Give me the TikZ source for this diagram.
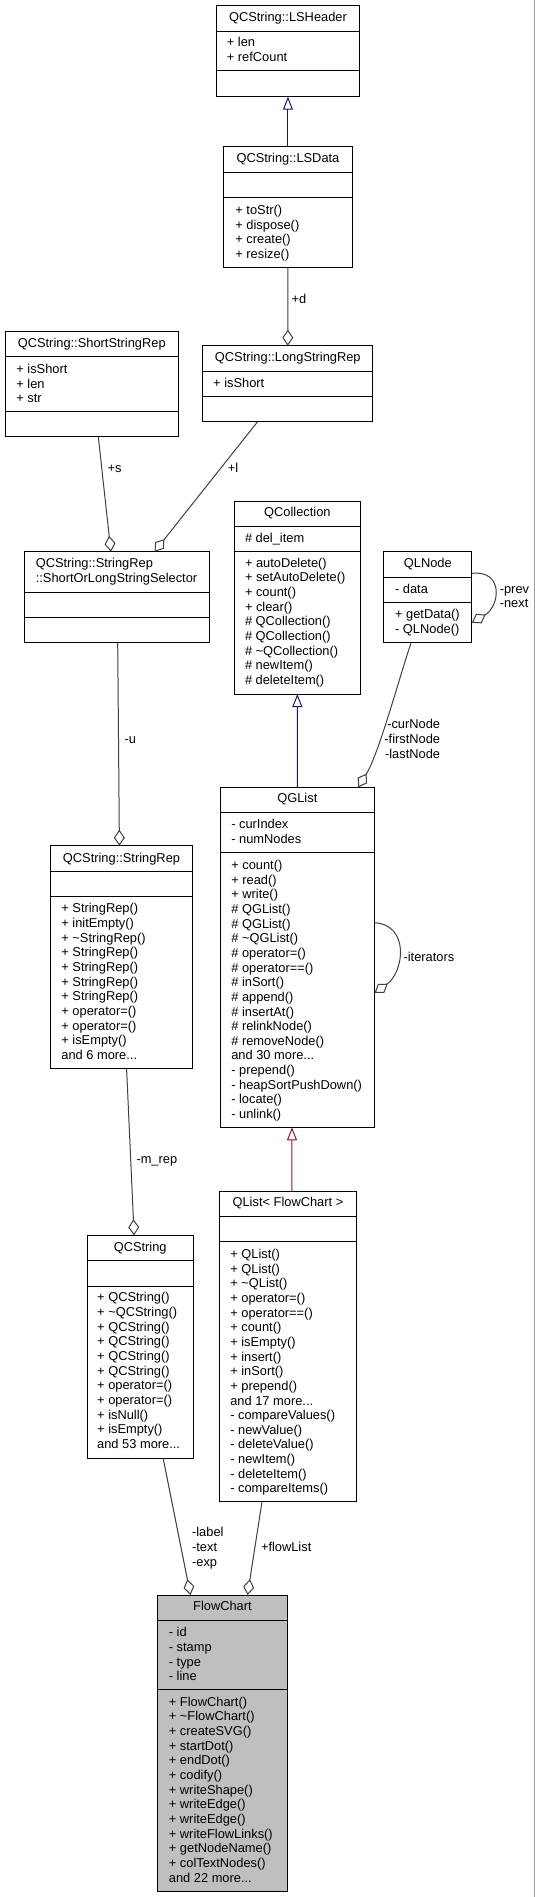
\documentclass[tikz,border=0pt]{standalone}
\usepackage{fontspec}
\setmainfont{Liberation Sans}
\usetikzlibrary{arrows.meta,calc}
\definecolor{edgegray}{HTML}{404040}
\definecolor{inhblue}{HTML}{191970}
\definecolor{inhred}{HTML}{8B1A1A}
\definecolor{fcgray}{HTML}{BFBFBF}
\definecolor{rimgray}{HTML}{9A9A9A}
\newcommand\umllines[1]{\begin{tabular}[t]{@{}l@{}}#1\end{tabular}}
\newcommand\umlrlines[1]{\begin{tabular}[t]{@{}r@{}}#1\end{tabular}}
\begin{document}
\begin{tikzpicture}[x=1pt,y=-1pt,
  every node/.style={font=\fontsize{12.85}{14.65}\selectfont, inner sep=0pt, outer sep=0pt},
  cbox/.style 2 args={draw=black, line width=1pt, fill=white, anchor=north west, minimum width=#1pt, minimum height=#2pt},
  cline/.style={draw=black, line width=1pt},
  ctitle/.style={anchor=base},
  ctext/.style={anchor=base west},
  elabel/.style={anchor=base west},
  agg/.style={draw=edgegray, line width=1pt, -{Diamond[open, length=16pt, width=11pt]}},
  inhb/.style={draw=inhblue, line width=1pt, -{Triangle[open, length=13pt, width=10pt]}},
  inhr/.style={draw=inhred, line width=1pt, -{Triangle[open, length=13pt, width=10pt]}}]
\fill[white] (0,0) rectangle (535,1897);
\useasboundingbox (0,0) rectangle (535,1897);
\draw[rimgray, line width=1.4pt] (534.3,0) -- (534.3,1897);

% QCString::LSHeader
\node[cbox={142.7}{91}] (lsh) at (216.6,5.7) {};
\draw[cline] (216.6,31.7) -- (359.3,31.7);
\draw[cline] (216.6,71) -- (359.3,71);
\node[ctitle] (lsh-t) at (287.95,21.8) {QCString::LSHeader};
\node[ctext] (lsh-a) at (226.9,46.8) {\umllines{+ len\\+ refCount}};

% QCString::LSData
\node[cbox={128.3}{120}] (lsd) at (223.8,147) {};
\draw[cline] (223.8,172.7) -- (352.1,172.7);
\draw[cline] (223.8,198) -- (352.1,198);
\node[ctitle] (lsd-t) at (287.95,162.8) {QCString::LSData};
\node[ctext] (lsd-m) at (235.4,214.5) {\umllines{+ toStr()\\+ dispose()\\+ create()\\+ resize()}};

% QCString::ShortStringRep
\node[cbox={173.3}{105.4}] (ssr) at (5.1,331.3) {};
\draw[cline] (5.1,356.7) -- (178.4,356.7);
\draw[cline] (5.1,411) -- (178.4,411);
\node[ctitle] (ssr-t) at (91.75,347.2) {QCString::ShortStringRep};
\node[ctext] (ssr-a) at (16.4,373.5) {\umllines{+ isShort\\+ len\\+ str}};

% QCString::LongStringRep
\node[cbox={170.2}{76}] (lsr) at (202.7,345.7) {};
\draw[cline] (202.7,371.7) -- (372.9,371.7);
\draw[cline] (202.7,396.7) -- (372.9,396.7);
\node[ctitle] (lsr-t) at (287.8,361.8) {QCString::LongStringRep};
\node[ctext] (lsr-a) at (213.2,387.2) {\umllines{+ isShort}};

% Selector
\node[cbox={185.2}{91}] (sel) at (24.6,551.7) {};
\draw[cline] (24.6,592.3) -- (209.8,592.3);
\draw[cline] (24.6,617.3) -- (209.8,617.3);
\node[ctext] (sel-t) at (35.8,567.8) {\umllines{QCString::StringRep\\::ShortOrLongStringSelector}};

% QCollection
\node[cbox={125.3}{193}] (qcol) at (234.7,501) {};
\draw[cline] (234.7,526) -- (360,526);
\draw[cline] (234.7,551.3) -- (360,551.3);
\node[ctitle] (qcol-t) at (297.35,516.8) {QCollection};
\node[ctext] (qcol-a) at (245,542.2) {\umllines{\# del\_item}};
\node[ctext] (qcol-m) at (245,567.2) {\umllines{+ autoDelete()\\+ setAutoDelete()\\+ count()\\+ clear()\\\# QCollection()\\\# QCollection()\\\# \textasciitilde QCollection()\\\# newItem()\\\# deleteItem()}};

% QLNode
\node[cbox={88.1}{91}] (qln) at (383.8,551.7) {};
\draw[cline] (383.8,577.3) -- (471.9,577.3);
\draw[cline] (383.8,602.7) -- (471.9,602.7);
\node[ctitle] (qln-t) at (427.85,567.8) {QLNode};
\node[ctext] (qln-a) at (395.1,593.2) {\umllines{- data}};
\node[ctext] (qln-m) at (395.1,618.8) {\umllines{+ getData()\\- QLNode()}};

% QGList
\node[cbox={154.5}{340}] (qgl) at (220.1,787.3) {};
\draw[cline] (220.1,812.3) -- (374.6,812.3);
\draw[cline] (220.1,852.3) -- (374.6,852.3);
\node[ctitle] (qgl-t) at (297.35,802.8) {QGList};
\node[ctext] (qgl-a) at (231.3,828.8) {\umllines{- curIndex\\- numNodes}};
\node[ctext] (qgl-m) at (231.3,869.5) {\umllines{+ count()\\+ read()\\+ write()\\\# QGList()\\\# QGList()\\\# \textasciitilde QGList()\\\# operator=()\\\# operator==()\\\# inSort()\\\# append()\\\# insertAt()\\\# relinkNode()\\\# removeNode()\\and 30 more...\\- prepend()\\- heapSortPushDown()\\- locate()\\- unlink()}};

% QCString::StringRep
\node[cbox={142.6}{223}] (srep) at (50.2,845.7) {};
\draw[cline] (50.2,871) -- (192.8,871);
\draw[cline] (50.2,896.7) -- (192.8,896.7);
\node[ctitle] (srep-t) at (121.5,862.2) {QCString::StringRep};
\node[ctext] (srep-m) at (61.4,912.8) {\umllines{+ StringRep()\\+ initEmpty()\\+ \textasciitilde StringRep()\\+ StringRep()\\+ StringRep()\\+ StringRep()\\+ StringRep()\\+ operator=()\\+ operator=()\\+ isEmpty()\\and 6 more...}};

% QList< FlowChart >
\node[cbox={137.1}{310.4}] (qlist) at (219.4,1191.3) {};
\draw[cline] (219.4,1216.7) -- (356.5,1216.7);
\draw[cline] (219.4,1241.7) -- (356.5,1241.7);
\node[ctitle] (qlist-t) at (287.95,1206.8) {QList< FlowChart >};
\node[ctext] (qlist-m) at (230.3,1258.5) {\umllines{+ QList()\\+ QList()\\+ \textasciitilde QList()\\+ operator=()\\+ operator==()\\+ count()\\+ isEmpty()\\+ insert()\\+ inSort()\\+ prepend()\\and 17 more...\\- compareValues()\\- newValue()\\- deleteValue()\\- newItem()\\- deleteItem()\\- compareItems()}};

% QCString
\node[cbox={106.4}{222.7}] (qcs) at (87,1235.3) {};
\draw[cline] (87,1260.7) -- (193.4,1260.7);
\draw[cline] (87,1286) -- (193.4,1286);
\node[ctitle] (qcs-t) at (140.2,1251.2) {QCString};
\node[ctext] (qcs-m) at (97.2,1301.8) {\umllines{+ QCString()\\+ \textasciitilde QCString()\\+ QCString()\\+ QCString()\\+ QCString()\\+ QCString()\\+ operator=()\\+ operator=()\\+ isNull()\\+ isEmpty()\\and 53 more...}};

% FlowChart
\node[cbox={129.7}{296.3}, fill=fcgray] (fc) at (157.6,1595) {};
\draw[cline] (157.6,1620.7) -- (287.3,1620.7);
\draw[cline] (157.6,1689.3) -- (287.3,1689.3);
\node[ctitle] (fc-t) at (222.45,1610.5) {FlowChart};
\node[ctext] (fc-a) at (168.9,1636.8) {\umllines{- id\\- stamp\\- type\\- line}};
\node[ctext] (fc-m) at (168.9,1706.2) {\umllines{+ FlowChart()\\+ \textasciitilde FlowChart()\\+ createSVG()\\+ startDot()\\+ endDot()\\+ codify()\\+ writeShape()\\+ writeEdge()\\+ writeEdge()\\+ writeFlowLinks()\\+ getNodeName()\\+ colTextNodes()\\and 22 more...}};

% connectors
\draw[inhb] (lsd.north) -- (lsh.south);
\draw[agg] (lsd.south) -- (lsr.north);
\draw[agg] ([xshift=6.55pt]ssr.south) -- ([xshift=-6.3pt]sel.north);
\draw[agg] ([xshift=-30.2pt]lsr.south) -- ([xshift=37.3pt]sel.north);
\draw[agg] ([xshift=0.5pt]sel.south) -- ([xshift=-2.1pt]srep.north);
\draw[inhb] (qgl.north) -- (qcol.south);
\draw[agg] ([xshift=-16.75pt]qln.south) .. controls (398.3,680.7) and (379,753.3) .. ([xshift=60.85pt]qgl.north);
\draw[agg] ($(qln.north east)+(0,21.6)$) .. controls (504,570) and (500,606) .. ($(qln.north east)+(0,71)$);
\draw[agg] ($(qgl.north east)+(0,135.4)$) .. controls (410,925) and (404,972) .. ($(qgl.north east)+(0,205.7)$);
\draw[agg] ([xshift=5.1pt]srep.south) -- ([xshift=-6.1pt]qcs.north);
\draw[inhr] ([xshift=4pt]qlist.north) -- ([xshift=-5.35pt]qgl.south);
\draw[agg] ([xshift=22.9pt]qcs.south) -- ([xshift=-31.95pt]fc.north);
\draw[agg] ([xshift=-25.95pt]qlist.south) -- ([xshift=25.05pt]fc.north);

% edge labels
\node[elabel] (l-d) at (291.7,303.5) {+d};
\node[elabel] (l-s) at (107.5,472) {+s};
\node[elabel] (l-l) at (227.9,472) {+l};
\node[elabel] (l-u) at (124.5,743) {-u};
\node[anchor=base east] (l-cur) at (440.1,728.8) {\umlrlines{-curNode\\-firstNode\\-lastNode}};
\node[elabel] (l-prev) at (499.8,593.2) {\umllines{-prev\\-next}};
\node[elabel] (l-it) at (403.6,961.2) {-iterators};
\node[elabel] (l-mrep) at (136.5,1163.5) {-m\_rep};
\node[elabel] (l-lab) at (192.1,1536.8) {\umllines{-label\\-text\\-exp}};
\node[elabel] (l-fl) at (261,1551.8) {+flowList};
\end{tikzpicture}
\end{document}
